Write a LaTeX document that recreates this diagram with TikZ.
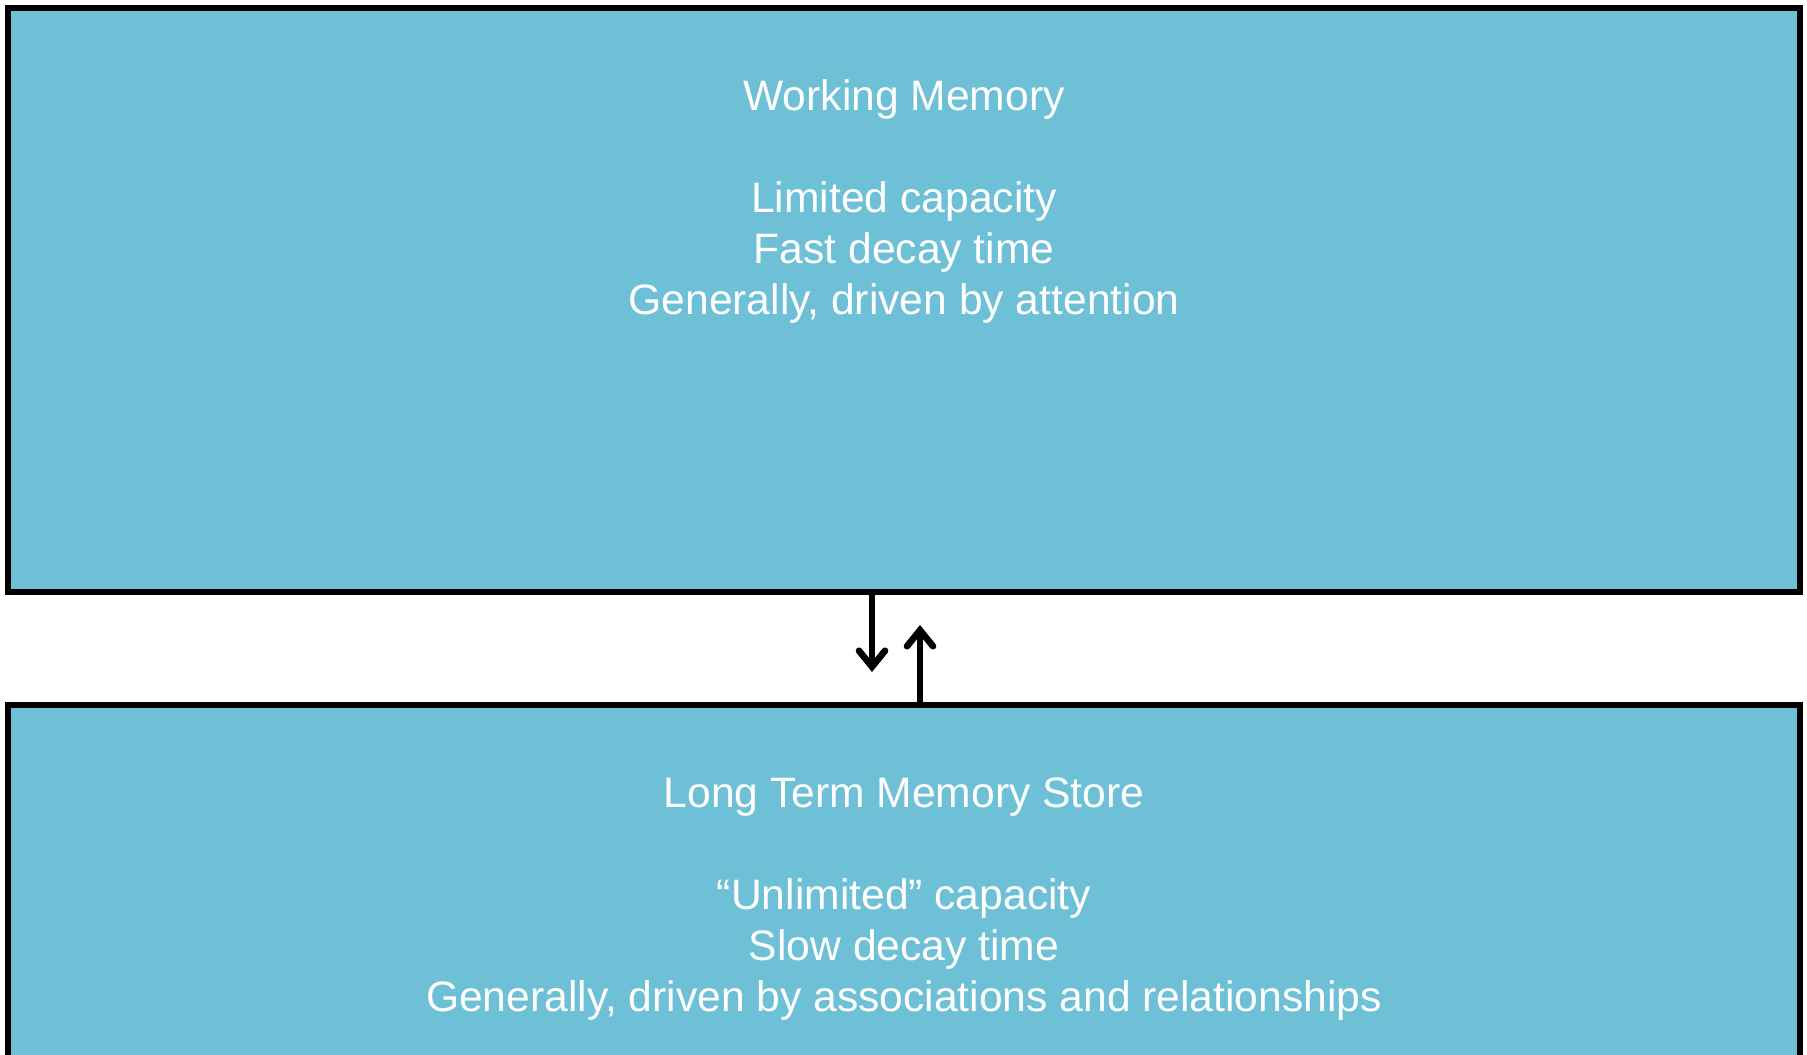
\documentclass[tikz,border=0pt]{standalone}
\usepackage{fontspec}
\setmainfont{Liberation Sans}
\usetikzlibrary{arrows.meta, positioning}

\definecolor{memblue}{RGB}{110,192,215}

\begin{document}
\begin{tikzpicture}[
        x=0.5pt, y=-0.5pt,
        membox/.style={rectangle, draw, line width=3pt, fill=memblue, outer sep=0pt, minimum width=896pt, minimum height=292pt},
        memtext/.style={align=center, inner sep=0pt, text=white, font=\fontsize{21.3pt}{25.5pt}\selectfont},
        arrow/.style={-{Straight Barb[length=8pt, width=13pt, line cap=round]}, line width=3.3pt}
    ]
        \clip (0,0) rectangle (1807,1054);

        % Boxes
        \node[membox] (wm) at (904,300) {};
        \node[membox] (ltm) at (904,996.5) {};

        % Texts
        \node[memtext, anchor=north, below=35.5pt of wm.north] (wmtext) {Working Memory\\[25.5pt]Limited capacity\\Fast decay time\\Generally, driven by attention};
        \node[memtext, anchor=north, below=36.5pt of ltm.north] (ltmtext) {Long Term Memory Store\\[25.5pt]“Unlimited” capacity\\Slow decay time\\Generally, driven by associations and relationships};

        % Arrows
        \coordinate (down) at (872,672);
        \coordinate (up) at (920,625);
        \draw[arrow] (wm.south -| down) -- (down);
        \draw[arrow] (ltm.north -| up) -- (up);
    \end{tikzpicture}
\end{document}
